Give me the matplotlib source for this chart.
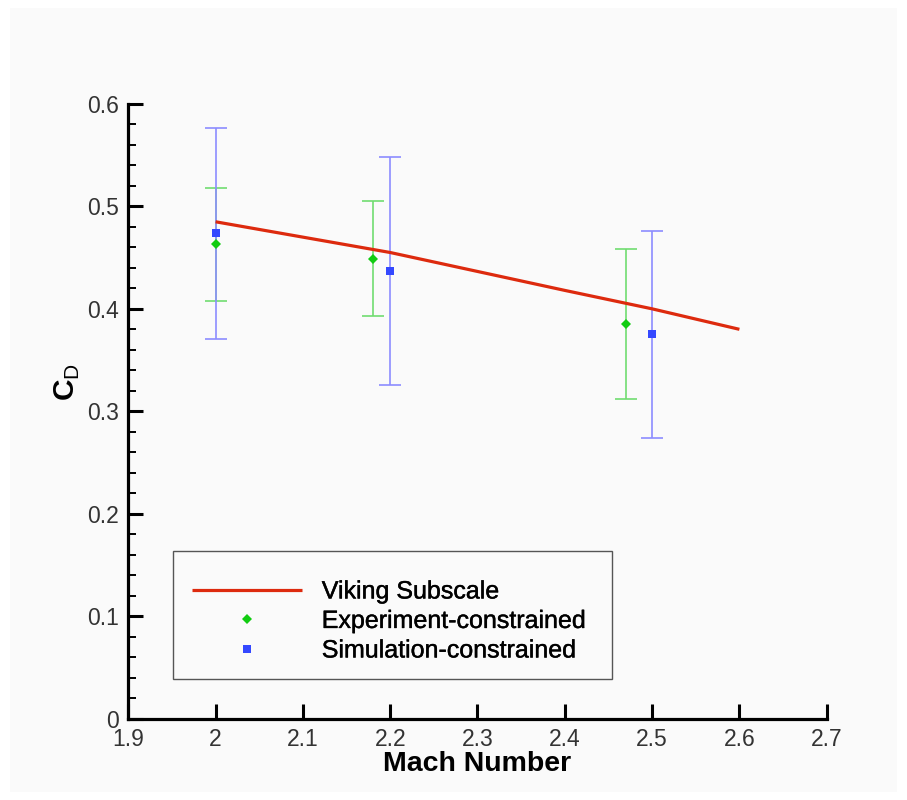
import matplotlib
matplotlib.use("Agg")
import matplotlib.pyplot as plt
from matplotlib.patches import Rectangle
from matplotlib.ticker import MultipleLocator
import matplotlib.patheffects as pe

# ---- data ----
line_mach = [2.0, 2.2, 2.4, 2.5, 2.6]
line_cd = [0.485, 0.455, 0.418, 0.400, 0.380]

exp_mach = [2.0, 2.18, 2.47]
exp_cd = [0.463, 0.449, 0.385]
exp_err = [0.055, 0.056, 0.073]

sim_mach = [2.0, 2.2, 2.5]
sim_cd = [0.474, 0.437, 0.375]
sim_err = [0.103, 0.111, 0.101]

x_ticks = [1.9, 2.0, 2.1, 2.2, 2.3, 2.4, 2.5, 2.6, 2.7]
x_ticklabels = ["1.9", "2", "2.1", "2.2", "2.3", "2.4", "2.5", "2.6", "2.7"]
y_ticks = [0, 0.1, 0.2, 0.3, 0.4, 0.5, 0.6]
y_ticklabels = ["0", "0.1", "0.2", "0.3", "0.4", "0.5", "0.6"]

labels = ["Viking Subscale", "Experiment-constrained", "Simulation-constrained"]

plt.rcParams['font.family'] = ['Liberation Sans', 'DejaVu Sans']
plt.rcParams['mathtext.fontset'] = 'custom'
plt.rcParams['mathtext.rm'] = 'Liberation Sans'
plt.rcParams['mathtext.bf'] = 'Liberation Sans:bold'

W, H = 907, 800
fig = plt.figure(figsize=(W / 100, H / 100), dpi=100, facecolor='white')
fig.patches.append(Rectangle((10 / W, 8 / H), (897 - 10) / W, (792 - 8) / H,
                             transform=fig.transFigure, facecolor='#fafafa',
                             edgecolor='none', zorder=-10))

ax = fig.add_axes([128.3 / W, 1 - 718.5 / H, (826.7 - 128.3) / W, (718.5 - 104) / H])
ax.set_facecolor('none')

red = '#dd2a0e'
ln, = ax.plot(line_mach, line_cd, color=red, lw=2.3, solid_capstyle='butt', zorder=3)

ax.errorbar(exp_mach, exp_cd, yerr=exp_err, fmt='none', ecolor='#70dc70',
            elinewidth=1.2, capsize=8, capthick=1.2, zorder=2)
ax.errorbar(sim_mach, sim_cd, yerr=sim_err, fmt='none', ecolor='#8c8cff',
            elinewidth=1.2, capsize=8, capthick=1.2, zorder=2)
ex, = ax.plot(exp_mach, exp_cd, linestyle='none', marker='D', markersize=5,
              color='#11cc11', markeredgewidth=0, zorder=4)
sm, = ax.plot(sim_mach, sim_cd, linestyle='none', marker='s', markersize=5.5,
              color='#3448ff', markeredgewidth=0, zorder=4)

ax.set_xlim(1.9, 2.7)
ax.set_ylim(0, 0.6)
ax.set_xticks(x_ticks)
ax.set_xticklabels(x_ticklabels)
ax.set_yticks(y_ticks)
ax.set_yticklabels(y_ticklabels)
ax.yaxis.set_minor_locator(MultipleLocator(0.02))

for s in ['top', 'right']:
    ax.spines[s].set_visible(False)
for s in ['left', 'bottom']:
    ax.spines[s].set_linewidth(2.3)
    ax.spines[s].set_color('black')

ax.tick_params(axis='both', which='major', direction='in', length=11, width=2.2,
               color='black', labelsize=16.5, labelcolor='#333333', pad=7)
ax.tick_params(axis='y', which='minor', direction='in', length=6, width=1.4, color='black')

ax.set_xlabel('Mach Number', fontsize=20.5, fontweight='bold', labelpad=0)
ax.text(-0.087, 0.548, r'$\mathbf{C}_{\mathrm{D}}$', transform=ax.transAxes,
        rotation=90, ha='center', va='center', fontsize=21.5)

# legend frame drawn separately (reference has extra space above the entries)
ax.add_patch(Rectangle((0.064, 0.064), 0.629, 0.2086, transform=ax.transAxes,
                       fill=False, edgecolor='#555555', lw=1.0, zorder=5))
leg = ax.legend([ln, ex, sm], labels, loc='lower left',
                bbox_to_anchor=(0.064, 0.0607, 0.629, 0.2), mode='expand',
                fontsize=18, frameon=False,
                handlelength=4.4, handletextpad=0.8, borderpad=0.75,
                labelspacing=0.22, borderaxespad=0)
for t in leg.get_texts():
    t.set_path_effects([pe.withStroke(linewidth=0.3, foreground='black')])

fig.savefig('out.png', dpi=100, facecolor=fig.get_facecolor())
